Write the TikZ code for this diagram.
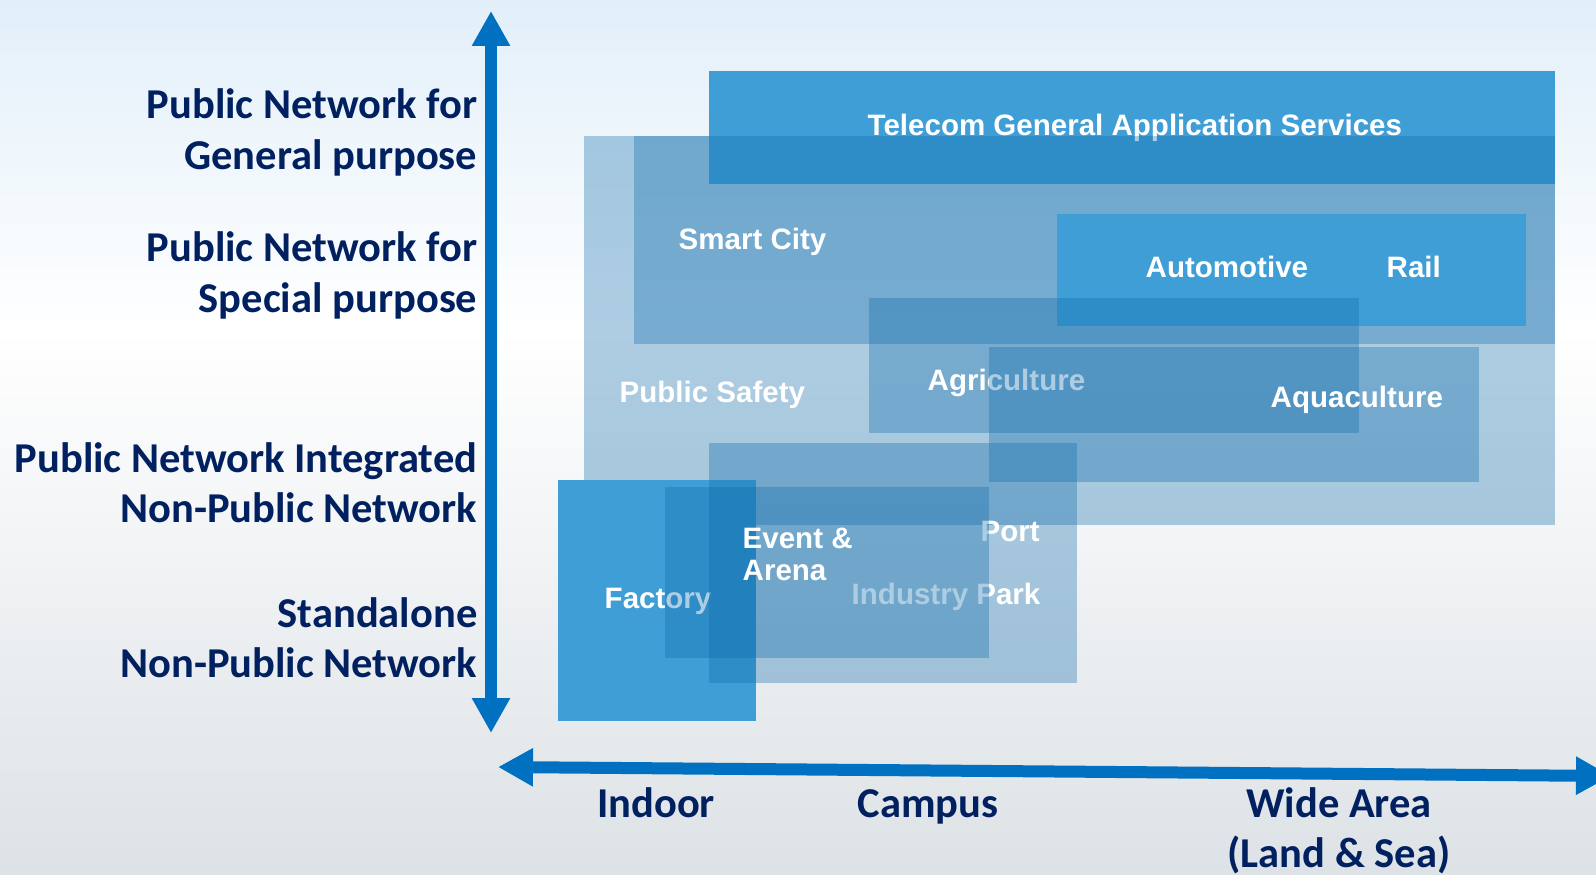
\documentclass[tikz,border=0pt]{standalone}
\usepackage{fontspec}
\setmainfont{Carlito}
\newfontfamily\boxfont{Liberation Sans}
\usetikzlibrary{arrows.meta}
\definecolor{axisblue}{RGB}{0,112,192}
\definecolor{navy}{RGB}{0,32,96}
\definecolor{paleblue}{RGB}{10,105,170}
\definecolor{brightblue}{RGB}{64,158,214}
\definecolor{bgtop}{RGB}{226,239,249}
\definecolor{bgbot}{RGB}{221,226,230}

\begin{document}
\begin{tikzpicture}[x=0.1mm, y=-0.1mm,
    axislabel/.style={font=\bfseries\fontsize{12.1}{14.4}\selectfont, text=navy, inner sep=0pt},
    boxlabel/.style={font=\boxfont\bfseries\fontsize{8.4}{9.4}\selectfont, text=white, inner sep=0pt, anchor=base west},
    palebox/.style={fill=paleblue, fill opacity=0.33},
    brightbox/.style={fill=brightblue},
    axisarrow/.style={draw=axisblue, line width=1.2mm,
      {Triangle[length=3.5mm, width=3.6mm]}-{Triangle[length=3.5mm, width=3.6mm]}}]
    \useasboundingbox (0,0) rectangle (1596,875);
    \clip (0,0) rectangle (1596,875);
    \shade[top color=bgtop, bottom color=white] (0,0) rectangle (1596,330);
    \shade[top color=white, bottom color=bgbot] (0,330) rectangle (1596,875);

    \fill[palebox] (584,136) rectangle (1555,525);
    \node[boxlabel] (safety) at (619,403) {Public Safety};
    \fill[brightbox] (709,71) rectangle (1555,184);
    \node[boxlabel] (telecom) at (867,136) {Telecom General Application Services};
    \fill[palebox] (634,136) rectangle (1555,344);
    \node[boxlabel] (city) at (678,250) {Smart City};
    \fill[brightbox] (1057,214) rectangle (1526,326);
    \node[boxlabel] (auto) at (1145,278) {Automotive};
    \node[boxlabel] (rail) at (1386,278) {Rail};
    \fill[palebox] (869,298) rectangle (1359,433);
    \node[boxlabel] (agri) at (927,391) {Agriculture};
    \fill[palebox] (989,347) rectangle (1479,482);
    \node[boxlabel] (aqua) at (1270,408) {Aquaculture};
    \fill[brightbox] (558,480) rectangle (756,721);
    \node[boxlabel] (factory) at (604,609) {Factory};
    \fill[palebox] (709,443) rectangle (1077,683);
    \node[boxlabel] (port) at (980,542) {Port};
    \node[boxlabel] (park) at (851,605) {Industry Park};
    \fill[palebox] (665,487) rectangle (989,658);
    \node[boxlabel] (event) at (742,549) {Event \&};
    \node[boxlabel] (arena) at (742,581) {Arena};

    \coordinate (vtop) at (491,11);
    \coordinate (vbot) at (491,733);
    \coordinate (hleft) at (498,767);
    \coordinate (hright) at (1611,776);
    \draw[axisarrow] (vbot) -- (vtop);
    \draw[axisarrow] (hleft) -- (hright);

    \node[axislabel, anchor=base east] (gen1) at (478,119) {Public Network for};
    \node[axislabel, anchor=base east] (gen2) at (478,170) {General purpose};
    \node[axislabel, anchor=base east] (spec1) at (478,262) {Public Network for};
    \node[axislabel, anchor=base east] (spec2) at (478,313) {Special purpose};
    \node[axislabel, anchor=base east] (pni1) at (478,473) {Public Network Integrated};
    \node[axislabel, anchor=base east] (pni2) at (478,523) {Non-Public Network};
    \node[axislabel, anchor=base east] (snpn1) at (478,627) {Standalone};
    \node[axislabel, anchor=base east] (snpn2) at (478,677) {Non-Public Network};

    \node[axislabel, anchor=base] (indoor) at (656,817) {Indoor};
    \node[axislabel, anchor=base] (campus) at (928,817) {Campus};
    \node[axislabel, anchor=base] (wide1) at (1339,817) {Wide Area};
    \node[axislabel, anchor=base] (wide2) at (1339,867) {(Land \& Sea)};
  \end{tikzpicture}
\end{document}
